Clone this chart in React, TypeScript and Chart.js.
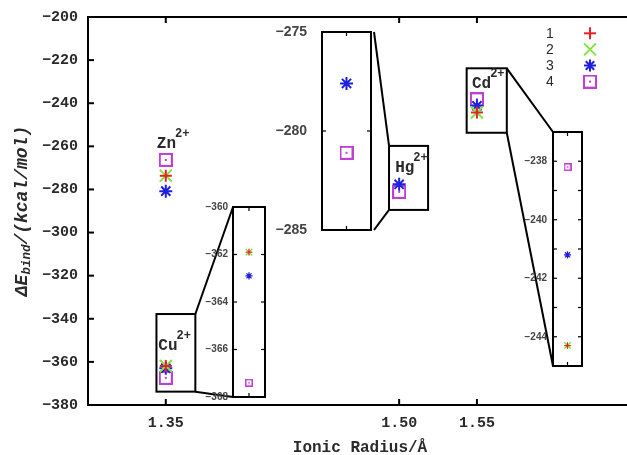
import React, { useEffect, useRef } from 'react';
import { Chart, registerables } from 'chart.js';

Chart.register(...registerables);

// ---------------- data ----------------
const ions = ['Zn', 'Cu', 'Hg', 'Cd'];
const ionicRadius = [1.35, 1.35, 1.5, 1.55];
const series1 = [-273.6, -361.9, null, -244.3];
const series2 = [-273.6, -361.9, null, -244.3];
const series3 = [-280.8, -362.9, -277.6, -241.2];
const series4 = [-266.3, -367.4, -281.1, -238.2];
const seriesNames = ['1', '2', '3', '4'];
const xTickValues = [1.35, 1.5, 1.55];
const xRange = [1.3, 1.65];
const yRange = [-380, -200];
const yStep = 20;

// inset axes (value ranges)
const cuInsetRange = [-368, -360];
const cuInsetStep = 2;
const hgInsetRange = [-285, -275];
const hgInsetStep = 5;
const cdInsetRange = [-245, -237];
const cdInsetStep = 1;

// highlighted regions on the main axes (data coordinates)
const cuZoomX = [1.344, 1.369];
const cuZoomY = [-373.8, -337.8];
const hgZoomX = [1.4935, 1.5186];
const hgZoomY = [-289.5, -259.8];
const cdZoomX = [1.5434, 1.5692];
const cdZoomY = [-253.7, -223.8];

// ---------------- layout / style ----------------
const W = 627;
const H = 455;
const CANVAS_W = 643;
const COLORS = ['#e2242a', '#84e23c', '#1f1fe0', '#c03ed4'];
const TEXT = '#2a2a2a';
const MONO = '"Liberation Mono", "DejaVu Sans Mono", monospace';
const SANS = '"Liberation Sans", Arial, sans-serif';

const ionLabelDx = [-9, -7.5, -4, -5];
const ionLabelY = [-260.8, -354.5, -271.8, -233.1];

type Area = { l: number; t: number; r: number; b: number };
const INSETS = {
  cu: { area: { l: 233, t: 207, r: 265, b: 397 } as Area, labelW: 40, pad: 5, font: 10, big: false },
  hg: { area: { l: 322, t: 32, r: 374, b: 230 } as Area, labelW: 60, pad: 15, font: 14, big: true },
  cd: { area: { l: 553, t: 132, r: 582, b: 366 } as Area, labelW: 40, pad: 6, font: 10, big: false },
};
const PAD_T = 10;
const PAD_R = 6;
const PAD_B = 10;

function squareImg(size: number, lw: number, color: string, dot: number) {
  const c = document.createElement('canvas');
  c.width = size;
  c.height = size;
  const g = c.getContext('2d')!;
  g.strokeStyle = color;
  g.lineWidth = lw;
  g.strokeRect(lw / 2, lw / 2, size - lw, size - lw);
  g.fillStyle = color;
  g.fillRect(size / 2 - dot / 2, size / 2 - dot / 2, dot, dot);
  return c;
}

function fmtMinus(v: number) {
  return (v < 0 ? '\u2212' : '') + String(Math.abs(v));
}

function makeDatasets(indices: number[], small: boolean) {
  const all = [series1, series2, series3, series4];
  const s = small ? 0.55 : 1;
  const sq = small ? squareImg(8, 1.5, COLORS[3], 1.5) : squareImg(14, 2, COLORS[3], 2);
  const styles: any[] = ['cross', 'crossRot', 'star', sq];
  const radii = [6 * s, 8.5 * s, 6.5 * s, 7 * s];
  return all.map((ser, k) => ({
    label: seriesNames[k],
    data: indices
      .filter((i) => ser[i] !== null)
      .map((i) => ({ x: ionicRadius[i], y: ser[i] as number })),
    pointStyle: styles[k],
    pointRadius: radii[k],
    pointHoverRadius: radii[k],
    pointBorderWidth: small ? 1.3 : 2,
    pointBorderColor: COLORS[k],
    pointBackgroundColor: COLORS[k],
    showLine: false,
  }));
}

function line(ctx: CanvasRenderingContext2D, x1: number, y1: number, x2: number, y2: number) {
  ctx.beginPath();
  ctx.moveTo(x1, y1);
  ctx.lineTo(x2, y2);
  ctx.stroke();
}

function drawLegendMarker(ctx: CanvasRenderingContext2D, k: number, x: number, y: number, img: HTMLCanvasElement) {
  ctx.save();
  ctx.strokeStyle = COLORS[k];
  ctx.lineWidth = 2;
  if (k === 0) {
    line(ctx, x - 6, y, x + 6, y);
    line(ctx, x, y - 6, x, y + 6);
  } else if (k === 1) {
    line(ctx, x - 6, y - 6, x + 6, y + 6);
    line(ctx, x - 6, y + 6, x + 6, y - 6);
  } else if (k === 2) {
    line(ctx, x - 6, y, x + 6, y);
    line(ctx, x, y - 6, x, y + 6);
    line(ctx, x - 4.2, y - 4.2, x + 4.2, y + 4.2);
    line(ctx, x - 4.2, y + 4.2, x + 4.2, y - 4.2);
  } else {
    ctx.drawImage(img, x - img.width / 2, y - img.height / 2);
  }
  ctx.restore();
}

const mainPlugin = {
  id: 'mainDecor',
  afterDraw(chart: any) {
    const { ctx, chartArea: a, scales } = chart;
    const xs = scales.x;
    const ys = scales.y;
    ctx.save();
    ctx.strokeStyle = '#000';
    ctx.lineWidth = 2;
    ctx.strokeRect(a.left, a.top, a.right - a.left, a.bottom - a.top);
    ys.ticks.forEach((t: any) => {
      const py = ys.getPixelForValue(t.value);
      line(ctx, a.left, py, a.left + 6, py);
    });
    xs.ticks.forEach((t: any) => {
      const px = xs.getPixelForValue(t.value);
      line(ctx, px, a.bottom, px, a.bottom - 6);
      line(ctx, px, a.top, px, a.top + 6);
    });

    // zoom boxes
    const box = (bx: number[], by: number[]) => {
      const l = xs.getPixelForValue(bx[0]);
      const r = xs.getPixelForValue(bx[1]);
      const t = ys.getPixelForValue(by[1]);
      const b = ys.getPixelForValue(by[0]);
      ctx.strokeRect(l, t, r - l, b - t);
      return { l, r, t, b };
    };
    const cu = box(cuZoomX, cuZoomY);
    const hg = box(hgZoomX, hgZoomY);
    const cd = box(cdZoomX, cdZoomY);
    const ci = INSETS.cu.area;
    const hi = INSETS.hg.area;
    const di = INSETS.cd.area;
    line(ctx, cu.r, cu.t, ci.l, ci.t);
    line(ctx, cu.r, cu.b, ci.l, ci.b);
    line(ctx, hi.r, hi.t, hg.l, hg.t);
    line(ctx, hi.r, hi.b, hg.l, hg.b);
    line(ctx, cd.r, cd.t, di.l, di.t);
    line(ctx, cd.r, cd.b, di.l, di.b);

    // ion labels
    ctx.fillStyle = TEXT;
    ctx.textAlign = 'left';
    ctx.textBaseline = 'alphabetic';
    ions.forEach((name, i) => {
      const px = xs.getPixelForValue(ionicRadius[i]) + ionLabelDx[i];
      const py = ys.getPixelForValue(ionLabelY[i]);
      ctx.font = `bold 16px ${MONO}`;
      ctx.fillText(name, px, py);
      const w = ctx.measureText(name).width;
      ctx.font = `bold 12px ${MONO}`;
      ctx.fillText('2+', px + w - 1, py - 11);
    });

    // y title
    ctx.save();
    ctx.translate(22, (a.top + a.bottom) / 2);
    ctx.rotate(-Math.PI / 2);
    ctx.textBaseline = 'middle';
    const bigF = `italic bold 18px ${MONO}`;
    const smallF = `italic bold 12.5px ${MONO}`;
    ctx.font = bigF;
    const w1 = ctx.measureText('\u0394E').width;
    const w3 = ctx.measureText('/(kcal/mol)').width;
    ctx.font = smallF;
    const w2 = ctx.measureText('bind').width;
    let x0 = -(w1 + w2 + w3) / 2;
    ctx.font = bigF;
    ctx.fillText('\u0394E', x0, 0);
    x0 += w1;
    ctx.font = smallF;
    ctx.fillText('bind', x0, 5);
    x0 += w2;
    ctx.font = bigF;
    ctx.fillText('/(kcal/mol)', x0, 0);
    ctx.restore();

    // x title
    ctx.font = `bold 16px ${MONO}`;
    ctx.textAlign = 'center';
    ctx.textBaseline = 'middle';
    ctx.fillText('Ionic Radius/\u00c5', 360, 448);

    // legend
    const img = squareImg(14, 2, COLORS[3], 2);
    ctx.font = `14px ${SANS}`;
    ctx.textAlign = 'center';
    ctx.textBaseline = 'middle';
    seriesNames.forEach((n, k) => {
      const ly = 33.3 + k * 16.1;
      ctx.fillStyle = TEXT;
      ctx.fillText(n, 550, ly + 0.5);
      drawLegendMarker(ctx, k, 590, ly, img);
    });
    ctx.restore();
  },
};

function mainConfig(): any {
  return {
    type: 'scatter',
    data: { datasets: makeDatasets([0, 1, 2, 3], false) },
    options: {
      animation: false,
      responsive: false,
      devicePixelRatio: 1,
      layout: { padding: { left: 0, top: 17, right: 0, bottom: 0 } },
      plugins: { legend: { display: false }, tooltip: { enabled: false } },
      scales: {
        x: {
          type: 'linear',
          min: xRange[0],
          max: xRange[1],
          grid: { display: false, drawTicks: false },
          border: { display: false },
          afterBuildTicks: (s: any) => {
            s.ticks = xTickValues.map((v) => ({ value: v }));
          },
          afterFit: (s: any) => {
            s.height = H - 405;
            s.paddingLeft = 0;
            s.paddingRight = 0;
          },
          ticks: {
            autoSkip: false,
            maxRotation: 0,
            padding: 9,
            color: TEXT,
            font: { family: MONO, size: 15, weight: 'bold' },
            callback: (v: any) => Number(v).toFixed(2),
          },
        },
        y: {
          type: 'linear',
          min: yRange[0],
          max: yRange[1],
          grid: { display: false, drawTicks: false },
          border: { display: false },
          afterFit: (s: any) => {
            s.width = 88;
            s.paddingTop = 0;
            s.paddingBottom = 0;
          },
          ticks: {
            stepSize: yStep,
            autoSkip: false,
            padding: 10,
            color: TEXT,
            font: { family: MONO, size: 15, weight: 'bold' },
            callback: (v: any) => fmtMinus(Number(v)),
          },
        },
      },
    },
    plugins: [mainPlugin],
  };
}

const insetPlugin = {
  id: 'insetDecor',
  afterDraw(chart: any) {
    const { ctx, chartArea: a, scales } = chart;
    const ys = scales.y;
    const xs = scales.x;
    ctx.save();
    ctx.strokeStyle = '#000';
    ctx.lineWidth = 2;
    ctx.strokeRect(a.left, a.top, a.right - a.left, a.bottom - a.top);
    ctx.lineWidth = 1.2;
    ys.ticks.forEach((t: any) => {
      const py = ys.getPixelForValue(t.value);
      line(ctx, a.left, py, a.left + 4, py);
      line(ctx, a.right, py, a.right - 4, py);
    });
    const cx = xs.getPixelForValue((xs.min + xs.max) / 2);
    line(ctx, cx, a.top, cx, a.top + 4);
    line(ctx, cx, a.bottom, cx, a.bottom - 4);
    ctx.restore();
  },
};

function insetConfig(idx: number, range: number[], step: number, cfg: any): any {
  const xc = ionicRadius[idx];
  return {
    type: 'scatter',
    data: { datasets: makeDatasets([idx], !cfg.big) },
    options: {
      animation: false,
      responsive: false,
      devicePixelRatio: 1,
      layout: { padding: { left: 0, top: PAD_T, right: PAD_R, bottom: PAD_B } },
      plugins: { legend: { display: false }, tooltip: { enabled: false } },
      scales: {
        x: { type: 'linear', display: false, min: xc - 0.01, max: xc + 0.01 },
        y: {
          type: 'linear',
          min: range[0],
          max: range[1],
          grid: { display: false, drawTicks: false },
          border: { display: false },
          afterFit: (s: any) => {
            s.width = cfg.labelW;
            s.paddingTop = 0;
            s.paddingBottom = 0;
          },
          ticks: {
            stepSize: step,
            autoSkip: false,
            padding: cfg.pad,
            color: '#444',
            font: { family: SANS, size: cfg.font, weight: 'bold' },
            callback: (v: any) => {
              const n = Number(v);
              if (step === 1 && Math.abs(n) % 2 !== 0) return '';
              return fmtMinus(n);
            },
          },
        },
      },
    },
    plugins: [insetPlugin],
  };
}

function insetBox(cfg: any) {
  const a = cfg.area as Area;
  return {
    left: a.l - cfg.labelW,
    top: a.t - PAD_T,
    width: cfg.labelW + (a.r - a.l) + PAD_R,
    height: PAD_T + (a.b - a.t) + PAD_B,
  };
}

export default function App() {
  const mainRef = useRef<HTMLCanvasElement>(null);
  const cuRef = useRef<HTMLCanvasElement>(null);
  const hgRef = useRef<HTMLCanvasElement>(null);
  const cdRef = useRef<HTMLCanvasElement>(null);

  useEffect(() => {
    const charts: Chart[] = [];
    charts.push(new Chart(mainRef.current!, mainConfig()));
    charts.push(new Chart(cuRef.current!, insetConfig(1, cuInsetRange, cuInsetStep, INSETS.cu)));
    charts.push(new Chart(hgRef.current!, insetConfig(2, hgInsetRange, hgInsetStep, INSETS.hg)));
    charts.push(new Chart(cdRef.current!, insetConfig(3, cdInsetRange, cdInsetStep, INSETS.cd)));
    return () => charts.forEach((c) => c.destroy());
  }, []);

  const cuB = insetBox(INSETS.cu);
  const hgB = insetBox(INSETS.hg);
  const cdB = insetBox(INSETS.cd);
  const pos = (b: any) => ({ position: 'absolute' as const, left: b.left, top: b.top, width: b.width, height: b.height });

  return (
    <div style={{ position: 'absolute', left: 0, top: 0, width: W, height: H, background: '#fff', overflow: 'hidden' }}>
      <canvas ref={mainRef} width={CANVAS_W} height={H} style={{ position: 'absolute', left: 0, top: 0, width: CANVAS_W, height: H }} />
      <canvas ref={cuRef} width={cuB.width} height={cuB.height} style={pos(cuB)} />
      <canvas ref={hgRef} width={hgB.width} height={hgB.height} style={pos(hgB)} />
      <canvas ref={cdRef} width={cdB.width} height={cdB.height} style={pos(cdB)} />
    </div>
  );
}
